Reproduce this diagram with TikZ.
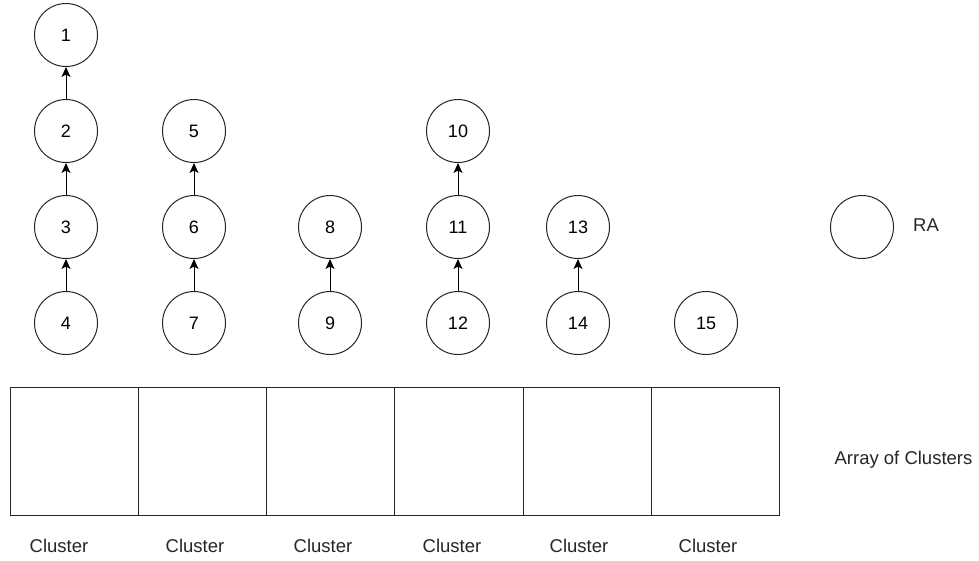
\documentclass[tikz,border=0pt]{standalone}
\usepackage{fontspec}
\setmainfont{Liberation Sans}
\usetikzlibrary{arrows.meta}
\begin{document}
\begin{tikzpicture}[x=1pt,y=-1pt,
  ra/.style={circle,draw=black!85,line width=1pt,minimum size=63pt,inner sep=0pt,font=\fontsize{18}{21}\selectfont},
  cell/.style={draw=black!85,line width=1pt,minimum width=128.25pt,minimum height=128pt,inner sep=0pt,anchor=north west},
  lbl/.style={font=\fontsize{18.5}{22}\selectfont,text=black!85,inner sep=0pt},
  link/.style={draw=black,line width=1pt,-{Stealth[length=10pt,width=9pt,inset=2.5pt]}}]
\useasboundingbox (0,0) rectangle (979,560);

% row positions of the RA circles
\def\ra{35}\def\rb{131}\def\rc{227}\def\rd{323}

\node[ra] (n1) at (66,\ra) {1};
\node[ra] (n2) at (66,\rb) {2};
\node[ra] (n3) at (66,\rc) {3};
\node[ra] (n4) at (66,\rd) {4};

\node[ra] (n5) at (194,\rb) {5};
\node[ra] (n6) at (194,\rc) {6};
\node[ra] (n7) at (194,\rd) {7};

\node[ra] (n8) at (330,\rc) {8};
\node[ra] (n9) at (330,\rd) {9};

\node[ra] (n10) at (458,\rb) {10};
\node[ra] (n11) at (458,\rc) {11};
\node[ra] (n12) at (458,\rd) {12};

\node[ra] (n13) at (578,\rc) {13};
\node[ra] (n14) at (578,\rd) {14};

\node[ra] (n15) at (706,\rd) {15};

% legend
\node[ra] (legend) at (862,\rc) {};
\node[lbl,anchor=base west] (legendtext) at (913,231) {RA};

% links to parents
\draw[link] (n2) -- (n1);
\draw[link] (n3) -- (n2);
\draw[link] (n4) -- (n3);
\draw[link] (n6) -- (n5);
\draw[link] (n7) -- (n6);
\draw[link] (n9) -- (n8);
\draw[link] (n11) -- (n10);
\draw[link] (n12) -- (n11);
\draw[link] (n14) -- (n13);

% array of clusters
\foreach \i in {0,...,5}{
  \node[cell] (c\i) at ({9.5+128.25*\i},387) {};
}
\node[lbl,anchor=base] (arr) at (903.5,464) {Array of Clusters};

\node[lbl,anchor=base] (l0) at (59,552) {Cluster};
\node[lbl,anchor=base] (l1) at (195,552) {Cluster};
\node[lbl,anchor=base] (l2) at (323,552) {Cluster};
\node[lbl,anchor=base] (l3) at (452,552) {Cluster};
\node[lbl,anchor=base] (l4) at (579,552) {Cluster};
\node[lbl,anchor=base] (l5) at (708,552) {Cluster};
\end{tikzpicture}
\end{document}
